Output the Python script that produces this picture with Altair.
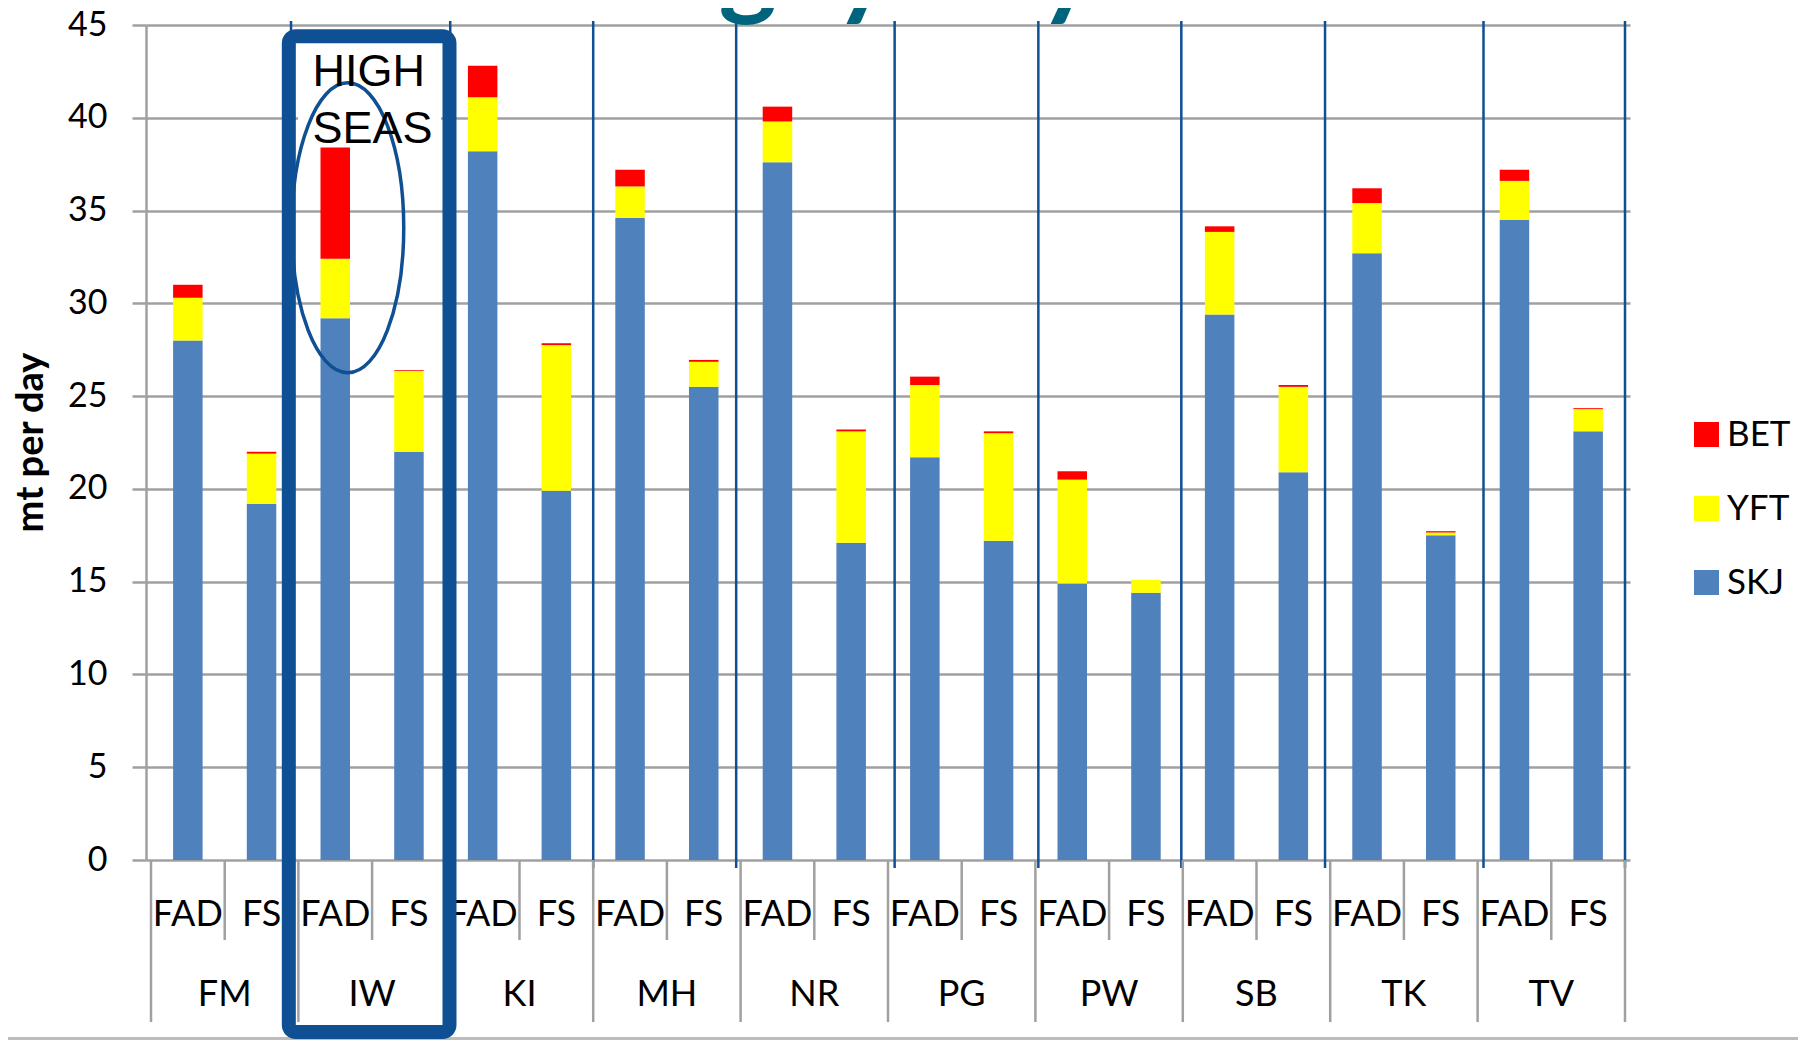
import altair as alt
import pandas as pd

# ---------------- data ----------------
countries = ["FM", "IW", "KI", "MH", "NR", "PG", "PW", "SB", "TK", "TV"]
set_types = ["FAD", "FS"]
skj = [28.0, 19.2, 29.2, 22.0, 38.2, 19.9, 34.6, 25.5, 37.6, 17.1,
       21.7, 17.2, 14.9, 14.4, 29.4, 20.9, 32.7, 17.5, 34.5, 23.1]
yft = [2.3, 2.7, 3.2, 4.35, 2.9, 7.85, 1.7, 1.35, 2.2, 6.0,
       3.9, 5.8, 5.6, 0.7, 4.45, 4.6, 2.7, 0.15, 2.1, 1.2]
bet = [0.7, 0.1, 6.0, 0.05, 1.7, 0.1, 0.9, 0.1, 0.8, 0.1,
       0.45, 0.1, 0.45, 0.0, 0.3, 0.1, 0.8, 0.07, 0.6, 0.05]
species = ["BET", "YFT", "SKJ"]
species_colors = ["#FF0000", "#FFFF00", "#4F81BD"]
# hand-drawn blue separators (in bar-slot units, as drawn on the slide)
blue_line_pos = [1.90, 4.06, 6.0, 7.94, 10.09, 12.04, 13.98, 15.93, 18.08, 20.0]
y_ticks = [0, 5, 10, 15, 20, 25, 30, 35, 40, 45]

# ---------------- tables ----------------
series = {"SKJ": (skj, 0), "YFT": (yft, 1), "BET": (bet, 2)}
rows = []
for i in range(len(countries) * 2):
    for sp, (vals, o) in series.items():
        rows.append({"pos": i + 0.5, "country": countries[i // 2],
                     "set": set_types[i % 2], "species": sp,
                     "value": vals[i], "order": o})
df = pd.DataFrame(rows)

set_lab = pd.DataFrame({"pos": [i + 0.5 for i in range(len(countries) * 2)],
                        "label": [set_types[i % 2] for i in range(len(countries) * 2)]})
cty_lab = pd.DataFrame({"pos": [2 * k + 1 for k in range(len(countries))],
                        "label": countries})
sep_group = pd.DataFrame({"pos": [2 * k for k in range(len(countries) + 1)]})
sep_inner = pd.DataFrame({"pos": [2 * k + 1 for k in range(len(countries))]})
blue_df = pd.DataFrame({"pos": blue_line_pos})
one = pd.DataFrame({"a": [0]})

PW, PH = 1484, 835
GRAY = "#A0A0A0"
BOX = "#0F4F93"
FONT = "Lato"

xs = alt.Scale(domain=[0, 20], nice=False, zero=False)
ys = alt.Scale(domain=[0, 45], nice=False, zero=True)

bars = alt.Chart(df).mark_bar(size=29.5).encode(
    x=alt.X("pos:Q", scale=xs, axis=None),
    y=alt.Y("value:Q", scale=ys, stack="zero", title="mt per day",
            axis=alt.Axis(values=y_ticks, grid=True, gridColor=GRAY, gridWidth=2.5,
                          domainColor=GRAY, domainWidth=2.5, tickColor=GRAY,
                          tickWidth=2.5, tickSize=14, labelFont=FONT,
                          labelFontSize=34, labelColor="black", labelPadding=25,
                          titleFont=FONT, titleFontSize=38, titleFontWeight="bold",
                          titleColor="black", titleAngle=-90, titleX=-104,
                          titleY=417, titleBaseline="alphabetic", titleAlign="center")),
    color=alt.Color("species:N",
                    scale=alt.Scale(domain=species, range=species_colors),
                    legend=alt.Legend(title=None, orient="none", legendX=1543,
                                      legendY=392, symbolType="square",
                                      symbolSize=625, symbolStrokeWidth=0,
                                      labelFont=FONT, labelFontSize=35,
                                      labelColor="black", labelOffset=3,
                                      rowPadding=38, padding=0)),
    order=alt.Order("order:Q", sort="ascending"),
)

white_box = alt.Chart(one).mark_rect(color="white").encode(
    x=alt.datum(1.995), x2=alt.datum(3.935), y=alt.datum(44.02), y2=alt.datum(38.52))

ELLIPSE = "M -0.386 0 A 0.386 1 0 1 1 0.386 0 A 0.386 1 0 1 1 -0.386 0 Z"
ellipse = alt.Chart(one).mark_point(shape=ELLIPSE, filled=False, color=BOX,
                                    strokeWidth=3.5, size=84100, opacity=1).encode(
    x=alt.datum(2.67), y=alt.datum(34.07))

high_seas = alt.Chart(one).mark_text(text=["HIGH", "SEAS"], font="Liberation Sans",
                                     fontSize=45, align="left", baseline="alphabetic",
                                     lineHeight=56.7, color="black").encode(
    x=alt.datum(2.19), y=alt.datum(41.7))

blue_lines = alt.Chart(blue_df).mark_rule(color=BOX, strokeWidth=2.5).encode(
    x="pos:Q", y=alt.value(-4), y2=alt.value(843))

sep_g = alt.Chart(sep_group).mark_rule(color=GRAY, strokeWidth=2.5).encode(
    x="pos:Q", y=alt.value(PH), y2=alt.value(997))
sep_i = alt.Chart(sep_inner).mark_rule(color=GRAY, strokeWidth=2.5).encode(
    x="pos:Q", y=alt.value(PH), y2=alt.value(915))

set_text = alt.Chart(set_lab).mark_text(font=FONT, fontSize=36, baseline="middle",
                                        color="black").encode(
    x="pos:Q", y=alt.value(890), text="label:N")
cty_text = alt.Chart(cty_lab).mark_text(font=FONT, fontSize=36, baseline="middle",
                                        color="black").encode(
    x="pos:Q", y=alt.value(970), text="label:N")

big_box = alt.Chart(one).mark_rect(fillOpacity=0, stroke=BOX, strokeWidth=14,
                                   cornerRadius=7).encode(
    x=alt.datum(1.87), x2=alt.datum(4.05), y=alt.datum(44.4), y2=alt.datum(-9.27))

title = alt.Chart(one).mark_text(text="Bigeye bycatch rates", font=FONT,
                                 fontWeight="bold", fontSize=111, align="right",
                                 baseline="alphabetic", color="#00647D").encode(
    x=alt.value(1487), y=alt.value(-20))

bottom_line = alt.Chart(one).mark_rule(color="#BDBDBD", strokeWidth=3).encode(
    x=alt.value(-138), x2=alt.value(PW + 168), y=alt.value(1013.5))

chart = alt.layer(
    bars, white_box, ellipse, high_seas, blue_lines, sep_g, sep_i,
    set_text, cty_text, bottom_line, big_box, title,
).properties(
    width=PW, height=PH,
    padding={"left": 138, "top": 17, "right": 168, "bottom": 180},
    autosize=alt.AutoSizeParams(type="none"),
    background="white",
).configure_view(strokeOpacity=0)

chart.save("out.html", embed_options={"renderer": "svg", "actions": False})
